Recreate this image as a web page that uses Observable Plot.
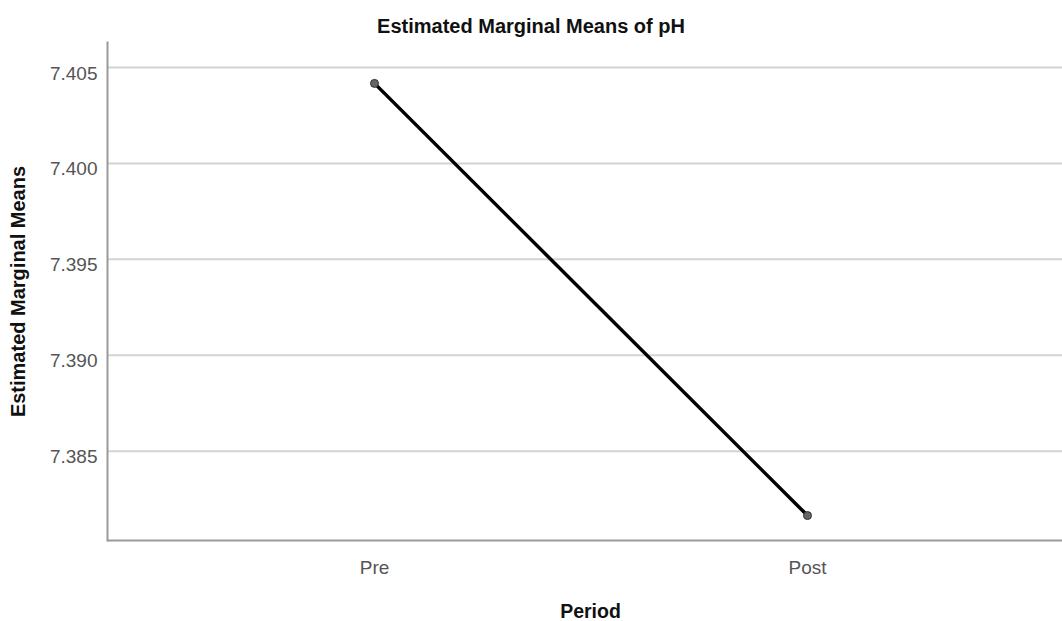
<!DOCTYPE html>
<html>
<head>
<meta charset="utf-8">
<script src="https://cdn.jsdelivr.net/npm/d3@7"></script>
<script src="https://cdn.jsdelivr.net/npm/@observablehq/plot@0.6"></script>
<style>
  html, body { margin: 0; padding: 0; background: #fff; overflow: hidden; }
  #wrap { position: relative; width: 1062px; height: 621px; font-family: "Liberation Sans", Arial, sans-serif; }
  #title { position: absolute; top: 15px; left: 0; width: 1062px; text-align: center; font-weight: bold; font-size: 20px; color: #111; }
  svg { display: block; }
</style>
</head>
<body>
<div id="wrap">
  <div id="chart"></div>
  <div id="title">Estimated Marginal Means of pH</div>
</div>
<script>
const periods = ["Pre", "Post"];
const means = [7.40417, 7.38165];
const yTicks = [7.385, 7.390, 7.395, 7.400, 7.405];
const yDomain = [7.38035, 7.4063];
const yLabel = "Estimated Marginal Means";
const xLabel = "Period";

const data = periods.map((p, i) => ({period: p, mean: means[i]}));

const chart = Plot.plot({
  width: 1062,
  height: 621,
  marginLeft: 107,
  marginRight: -11,
  marginTop: 42,
  marginBottom: 81,
  style: {fontFamily: "'Liberation Sans', Arial, sans-serif", background: "#fff", overflow: "hidden"},
  x: {type: "point", domain: periods, padding: 0.613, label: null},
  y: {domain: yDomain, label: null},
  marks: [
    Plot.gridY(yTicks, {stroke: "#d4d4d4", strokeOpacity: 1, strokeWidth: 2}),
    Plot.ruleY([yDomain[0]], {stroke: "#9a9a9a", strokeWidth: 2}),
    Plot.frame({anchor: "left", stroke: "#9a9a9a", strokeWidth: 2}),
    Plot.axisY(yTicks, {tickSize: 0, tickPadding: 10, tickFormat: d3.format(".3f"), fontSize: 19, fill: "#555", dy: 6, label: null}),
    Plot.axisX({tickSize: 0, tickPadding: 20, fontSize: 19, fill: "#555", label: null}),
    Plot.line(data, {x: "period", y: "mean", stroke: "#000", strokeWidth: 3.5}),
    Plot.dot(data, {x: "period", y: "mean", r: 4, fill: "#666", stroke: "#333", strokeWidth: 1}),
    Plot.text([yLabel], {frameAnchor: "left", dx: -89, rotate: -90, textAnchor: "middle", text: d => d, fontSize: 20, fontWeight: "bold", fill: "#111"}),
    Plot.text([xLabel], {frameAnchor: "bottom", dy: 77, text: d => d, fontSize: 19.5, fontWeight: "bold", fill: "#111"})
  ]
});
document.getElementById("chart").appendChild(chart);
</script>
</body>
</html>
